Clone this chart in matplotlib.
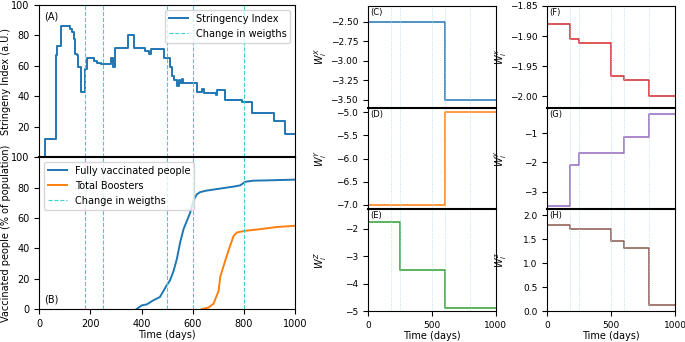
import numpy as np
import matplotlib
matplotlib.use("Agg")
from matplotlib import pyplot as plt

# stringency index (step changes: day, value)
si_days = [0, 23, 65, 68, 72, 85, 121, 128, 135, 141, 148, 152, 163, 180, 189,
           215, 228, 241, 280, 290, 295, 349, 371, 414, 430, 436, 488, 512, 518,
           525, 540, 545, 550, 557, 563, 596, 618, 635, 642, 691, 696, 726, 794,
           833, 919, 961, 1000]
si_vals = [0, 12, 47, 67, 73, 86, 84, 82, 78, 68, 67, 59, 42.5, 58, 65,
           63, 62, 61.5, 65, 59, 72, 80, 72, 70, 68, 71, 65, 59, 53,
           51, 47, 50.5, 49, 51.5, 49, 48.5, 43, 45, 42, 40.5, 44, 37.5, 36,
           29, 24, 15, 15]

# vaccination
vax_days = [381, 401, 420, 446, 472, 498, 511, 525, 538, 551, 564, 577, 590, 603,
            616, 629, 655, 707, 759, 785, 805, 837, 889, 1000]
vax_vals = [0, 2.4, 3, 5.7, 7.9, 15.5, 18.8, 25, 33, 44, 52.6, 58, 63.5, 71.6,
            75.5, 77, 78, 79.3, 80.6, 81.4, 83.8, 84.5, 84.7, 85.2]
boost_days = [636, 662, 681, 701, 707, 727, 746, 759, 772, 805, 864, 929, 1000]
boost_vals = [0, 1, 3.5, 12, 21, 32, 41.7, 48, 50.4, 51.5, 52.6, 54, 54.8]

change_days = [180, 250, 500, 600, 800]

# weights (step functions, start days of each segment)
wX_days = [0, 600, 1000];             wX = [-2.5, -3.5, -3.5]
wY_days = [0, 600, 1000];             wY = [-7.0, -5.0, -5.0]
wZ_days = [0, 250, 600, 1000];        wZ = [-1.75, -3.5, -4.9, -4.9]
wx_days = [0, 180, 250, 500, 600, 800, 1000]
wx = [-1.88, -1.905, -1.911, -1.966, -1.973, -2.0, -2.0]
wy_days = [0, 180, 250, 600, 800, 1000]
wy = [-3.48, -2.08, -1.69, -1.13, -0.35, -0.35]
wz_days = [0, 180, 500, 600, 800, 1000]
wz = [1.80, 1.70, 1.46, 1.31, 0.12, 0.12]

vcol = '#3cd0d0'
fs = 7
fig = plt.figure(figsize=(6.85, 3.42), dpi=100)

axA = fig.add_axes([0.057, 0.541, 0.374, 0.444])
axB = fig.add_axes([0.057, 0.0965, 0.374, 0.444])

axA.step(si_days, si_vals, where='post', color='tab:blue', lw=1.4, label='Stringency Index')
for i, d in enumerate(change_days):
    axA.axvline(d, color=vcol, ls='--', lw=0.8, label='Change in weigths' if i == 0 else None)
axA.set_xlim(0, 1000)
axA.set_ylim(0, 100)
axA.set_yticks([20, 40, 60, 80, 100])
axA.set_xticks([])
axA.set_ylabel('Stringeny Index (a.U.)', fontsize=fs)
axA.text(0.02, 0.96, '(A)', transform=axA.transAxes, fontsize=fs, va='top')
axA.legend(loc='upper right', fontsize=fs)

axB.plot(vax_days, vax_vals, color='tab:blue', lw=1.4, label='Fully vaccinated people')
axB.plot(boost_days, boost_vals, color='tab:orange', lw=1.4, label='Total Boosters')
for i, d in enumerate(change_days):
    axB.axvline(d, color=vcol, ls='--', lw=0.8, label='Change in weigths' if i == 0 else None)
axB.set_xlim(0, 1000)
axB.set_ylim(0, 100)
axB.set_ylabel('Vaccinated people (% of population)', fontsize=fs)
axB.set_xlabel('Time (days)', fontsize=fs, labelpad=1)
axB.text(0.02, 0.03, '(B)', transform=axB.transAxes, fontsize=fs, va='bottom')
axB.legend(loc='upper left', fontsize=fs)
axB.spines['top'].set_color('black')
axB.spines['top'].set_linewidth(1.5)
for ax in (axA, axB):
    ax.tick_params(labelsize=fs)
    ax.yaxis.set_label_coords(-0.11, 0.5)

panels = [
    (0.537, wX_days, wX, 'tab:blue', r'$W_i^X$', '(C)', (-3.6, -2.3), [-3.5, -3.25, -3.0, -2.75, -2.5]),
    (0.537, wY_days, wY, 'tab:orange', r'$W_i^Y$', '(D)', (-7.1, -4.9), [-7.0, -6.5, -6.0, -5.5, -5.0]),
    (0.537, wZ_days, wZ, 'tab:green', r'$W_i^Z$', '(E)', (-5.0, -1.3), [-5, -4, -3, -2]),
    (0.7985, wx_days, wx, 'tab:red', r'$W_i^x$', '(F)', (-2.019, -1.85), [-2.0, -1.95, -1.9, -1.85]),
    (0.7985, wy_days, wy, 'tab:purple', r'$W_i^y$', '(G)', (-3.6, -0.13), [-3, -2, -1]),
    (0.7985, wz_days, wz, 'tab:brown', r'$W_i^z$', '(H)', (0.0, 2.12), [0.0, 0.5, 1.0, 1.5, 2.0]),
]
h = 0.2973
bottoms = [1 - 6 / 342 - h, 1 - 6 / 342 - 2 * h, 1 - 6 / 342 - 3 * h]
for k, (x0, days, vals, col, ylab, tag, ylim, yt) in enumerate(panels):
    row = k % 3
    ax = fig.add_axes([x0, bottoms[row], 0.187, h])
    ax.step(days, vals, where='post', color=col, lw=1.1)
    for d in change_days:
        ax.axvline(d, color='lightblue', lw=0.6, ls=':')
    ax.set_xlim(0, 1000)
    ax.set_ylim(*ylim)
    ax.set_yticks(yt)
    ax.set_ylabel(ylab, fontsize=fs)
    ax.yaxis.set_label_coords(-0.3, 0.5)
    ax.text(0.02, 0.98, tag, transform=ax.transAxes, fontsize=6, va='top')
    ax.tick_params(labelsize=6.5)
    if row < 2:
        ax.set_xticks([])
    else:
        ax.set_xticks([0, 500, 1000])
        ax.set_xlabel('Time (days)', fontsize=fs, labelpad=1)
    if row > 0:
        ax.spines['top'].set_color('black')
        ax.spines['top'].set_linewidth(1.5)

plt.savefig('out.png', dpi=100)
